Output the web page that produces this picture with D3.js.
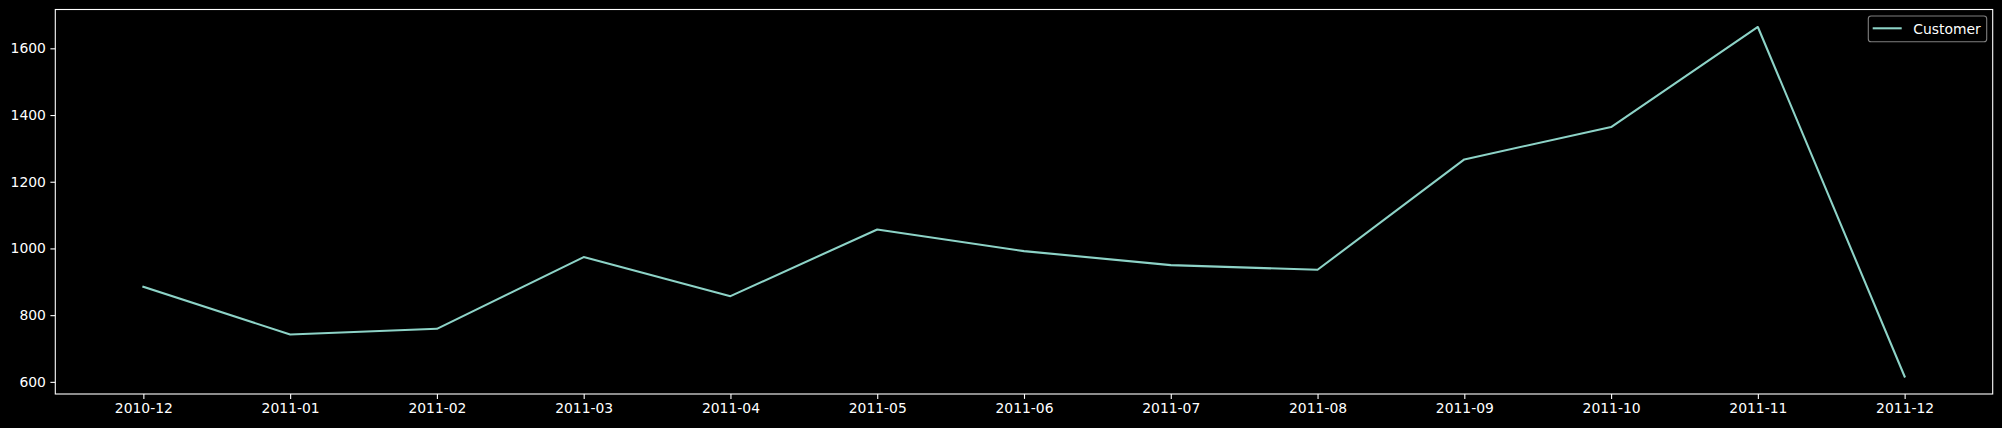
<!DOCTYPE html>
<html>
<head>
<meta charset="utf-8">
<script src="https://cdn.jsdelivr.net/npm/d3@7"></script>
<style>
  html, body { margin: 0; padding: 0; background: #000; }
  svg { display: block; }
  text { font-family: "DejaVu Sans", sans-serif; }
</style>
</head>
<body>
<svg id="chart" width="2002" height="428"></svg>
<script>
const months = ["2010-12","2011-01","2011-02","2011-03","2011-04","2011-05","2011-06","2011-07","2011-08","2011-09","2011-10","2011-11","2011-12"];
const customers = [885, 742, 759, 974, 857, 1057, 992, 950, 936, 1267, 1364, 1664, 616];
const yTicks = [600, 800, 1000, 1200, 1400, 1600];
const seriesName = "Customer";

(function () {
const W = 2002, H = 428;
const mLeft = 55.3, mRight = 1992.7, mTop = 9.5, mBottom = 394;
const svg = d3.select("#chart");
svg.append("rect").attr("width", W).attr("height", H).attr("fill", "#000");

const x = d3.scalePoint().domain(months).range([mLeft, mRight]).padding(0.6);
const ymin = d3.min(customers), ymax = d3.max(customers);
const pad = (ymax - ymin) * 0.05;
const y = d3.scaleLinear().domain([ymin - pad, ymax + pad]).range([mBottom, mTop]);

const fs = 13.9;

// x axis
const xAxis = svg.append("g").attr("transform", `translate(0,${mBottom})`)
  .call(d3.axisBottom(x).tickSize(4.9).tickPadding(4.5));
xAxis.select(".domain").remove();
xAxis.selectAll("line").attr("stroke", "#fff").attr("stroke-width", 1.1);
xAxis.selectAll("text").attr("fill", "#fff").attr("font-size", fs).attr("font-family", "DejaVu Sans");

// y axis
const yAxis = svg.append("g").attr("transform", `translate(${mLeft},0)`)
  .call(d3.axisLeft(y).tickValues(yTicks).tickFormat(d3.format("d")).tickSize(4.9).tickPadding(4.5));
yAxis.select(".domain").remove();
yAxis.selectAll("line").attr("stroke", "#fff").attr("stroke-width", 1.1);
yAxis.selectAll("text").attr("fill", "#fff").attr("font-size", fs).attr("font-family", "DejaVu Sans");

// line
const line = d3.line().x((d, i) => x(months[i])).y(d => y(d));
svg.append("path").datum(customers)
  .attr("d", line)
  .attr("fill", "none")
  .attr("stroke", "#8dd3c7")
  .attr("stroke-width", 2.08)
  .attr("stroke-linejoin", "round")
  .attr("stroke-linecap", "square");

// frame
svg.append("rect").attr("x", mLeft).attr("y", mTop)
  .attr("width", mRight - mLeft).attr("height", mBottom - mTop)
  .attr("fill", "none").attr("stroke", "#fff").attr("stroke-width", 1.1);

// legend
const lg = svg.append("g");
lg.append("rect").attr("x", 1868.3).attr("y", 16).attr("width", 118.4).attr("height", 25.7)
  .attr("rx", 2.8).attr("fill", "#000").attr("fill-opacity", 0.8)
  .attr("stroke", "#7f7f7f").attr("stroke-width", 1.1);
lg.append("line").attr("x1", 1872.7).attr("x2", 1901.7).attr("y1", 28.3).attr("y2", 28.3)
  .attr("stroke", "#8dd3c7").attr("stroke-width", 2.08);
lg.append("text").attr("x", 1913.3).attr("y", 33.5).attr("fill", "#fff")
  .attr("font-size", fs).text(seriesName);
})();
</script>
</body>
</html>
